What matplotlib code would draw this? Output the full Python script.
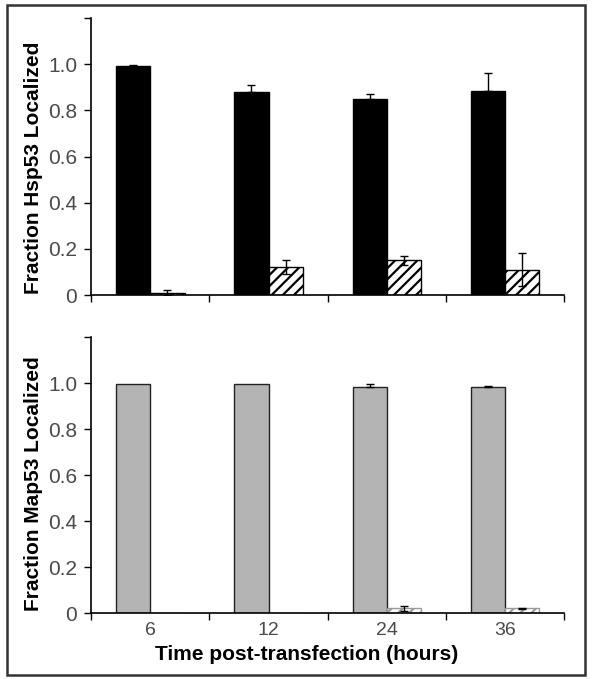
import numpy as np
import matplotlib.pyplot as plt
from matplotlib.patches import Rectangle

plt.rcParams['font.family'] = ['Liberation Sans', 'DejaVu Sans']
plt.rcParams['hatch.linewidth'] = 1.6

hours = ['6', '12', '24', '36']

hsp_solid = [0.99, 0.88, 0.85, 0.885]
hsp_solid_err = [0.005, 0.03, 0.02, 0.075]
hsp_hatch = [0.01, 0.12, 0.15, 0.11]
hsp_hatch_err = [0.01, 0.03, 0.02, 0.07]

map_solid = [0.998, 0.998, 0.982, 0.982]
map_solid_err = [0.0, 0.0, 0.015, 0.004]
map_hatch = [0.0, 0.0, 0.022, 0.022]
map_hatch_err = [0.0, 0.0, 0.01, 0.002]

width = 0.29
tick_color = '#4a4a4a'


def draw_panel(ax, solid, solid_err, hatch, hatch_err, solid_color, solid_edge,
               hatch_edge, ylabel, label_y, show_x):
    x = np.arange(len(hours)) + 0.5
    ax.bar(x - width, solid, width, align='edge', color=solid_color,
           edgecolor=solid_edge, linewidth=1.0, zorder=2)
    ax.bar(x, hatch, width, align='edge', color='white', hatch='///',
           edgecolor=hatch_edge, linewidth=1.0, zorder=2)
    solid, solid_err = np.array(solid), np.array(solid_err)
    hatch, hatch_err = np.array(hatch), np.array(hatch_err)
    m = solid_err > 0
    # solid bars only show the upper whisker
    ax.errorbar(x[m] - width / 2, solid[m], yerr=[np.zeros(m.sum()), solid_err[m]],
                fmt='none', ecolor='black', elinewidth=1.0, capsize=3,
                capthick=1.0, zorder=3)
    m = hatch_err > 0
    ax.errorbar(x[m] + width / 2, hatch[m], yerr=hatch_err[m], fmt='none',
                ecolor='black', elinewidth=1.0, capsize=3, capthick=1.0, zorder=3)

    ax.set_xlim(0, len(hours))
    ax.set_ylim(0, 1.2)
    ax.set_yticks([0, 0.2, 0.4, 0.6, 0.8, 1.0, 1.2])
    ax.set_yticklabels(['0', '0.2', '0.4', '0.6', '0.8', '1.0', ''])
    ax.set_xticks(np.arange(len(hours) + 1))
    ax.set_xticklabels([])
    if show_x:
        ax.set_xticks(x, minor=True)
        ax.set_xticklabels(hours, minor=True)
        ax.tick_params(axis='x', which='minor', length=0, pad=6,
                       labelsize=14, labelcolor=tick_color)
        ax.set_xlabel('Time post-transfection (hours)', fontsize=15,
                      fontweight='bold')
        ax.xaxis.set_label_coords(0.455, -0.115)
    ax.tick_params(axis='y', direction='out', length=5, width=1,
                   labelsize=15, labelcolor=tick_color, pad=5)
    ax.tick_params(axis='x', which='major', direction='out', length=5, width=1)
    for s in ['top', 'right']:
        ax.spines[s].set_visible(False)
    for s in ['left', 'bottom']:
        ax.spines[s].set_linewidth(1.2)
    ax.set_ylabel(ylabel, fontsize=15, fontweight='bold')
    ax.yaxis.set_label_coords(-0.102, label_y)


fig = plt.figure(figsize=(5.92, 6.79), dpi=100)
ax1 = fig.add_axes([0.154, 0.5655, 0.799, 0.408])
ax2 = fig.add_axes([0.154, 0.0968, 0.799, 0.4065])

draw_panel(ax1, hsp_solid, hsp_solid_err, hsp_hatch, hsp_hatch_err,
           'black', 'black', 'black', 'Fraction Hsp53 Localized', 0.46, False)
draw_panel(ax2, map_solid, map_solid_err, map_hatch, map_hatch_err,
           '#b4b4b4', '#222222', '#9a9a9a', 'Fraction Map53 Localized', 0.47, True)

fig.patches.append(Rectangle((0.011, 0.006), 0.978, 0.987, transform=fig.transFigure,
                             fill=False, edgecolor='#333333', linewidth=1.8))

fig.savefig('out.png', dpi=100)
